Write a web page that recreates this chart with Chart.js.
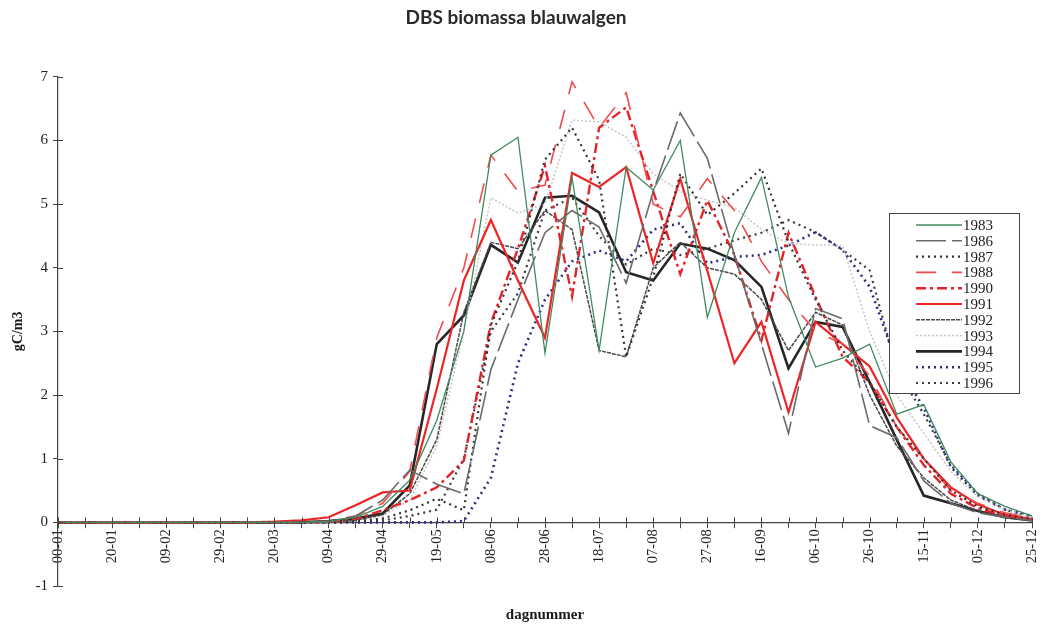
<!DOCTYPE html>
<html>
<head>
<meta charset="utf-8">
<script src="https://cdn.jsdelivr.net/npm/chart.js@4.4.1/dist/chart.umd.min.js"></script>
<style>
  html, body { margin: 0; padding: 0; background: #fff; }
</style>
</head>
<body>
<canvas id="chart" width="1040" height="627"></canvas>
<script>
// day numbers every 10 days, labelled as dd-mm
const dagLabels = ['00-01', '10-01', '20-01', '30-01', '09-02', '19-02', '29-02', '10-03', '20-03', '30-03',
    '09-04', '19-04', '29-04', '09-05', '19-05', '29-05', '08-06', '18-06', '28-06', '08-07',
    '18-07', '28-07', '07-08', '17-08', '27-08', '06-09', '16-09', '26-09', '06-10', '16-10',
    '26-10', '05-11', '15-11', '25-11', '05-12', '15-12', '25-12'];

const years = ['1983', '1986', '1987', '1988', '1990', '1991', '1992', '1993', '1994', '1995', '1996'];

// biomass gC/m3
const s1983 = [0, 0, 0, 0, 0, 0, 0, 0, 0, 0, 0.02, 0.08, 0.25, 0.66, 1.6, 3.0, 5.77, 6.05, 2.66, 5.42, 2.7, 5.58, 5.22, 6.0, 3.22, 4.55, 5.42, 3.54, 2.44, 2.58, 2.8, 1.7, 1.85, 0.95, 0.45, 0.25, 0.1];
const s1986 = [0, 0, 0, 0, 0, 0, 0, 0, 0, 0, 0, 0.1, 0.35, 0.82, 0.6, 0.45, 2.4, 3.5, 4.55, 4.9, 4.64, 3.76, 5.2, 6.43, 5.72, 4.2, 2.8, 1.4, 3.36, 3.2, 1.52, 1.33, 0.65, 0.3, 0.15, 0.08, 0.03];
const s1987 = [0, 0, 0, 0, 0, 0, 0, 0, 0, 0, 0, 0.02, 0.06, 0.19, 0.37, 0.19, 3.1, 4.1, 5.7, 6.2, 5.38, 2.6, 3.85, 5.48, 4.83, 5.17, 5.56, 4.4, 3.5, 2.7, 2.2, 1.5, 1.0, 0.5, 0.25, 0.12, 0.05];
const s1988 = [0, 0, 0, 0, 0, 0, 0, 0, 0, 0, 0.02, 0.1, 0.3, 0.8, 2.9, 4.0, 5.77, 5.2, 5.3, 6.92, 6.2, 6.75, 5.0, 4.8, 5.4, 4.9, 4.1, 3.5, 3.0, 2.8, 2.3, 1.5, 1.0, 0.5, 0.3, 0.15, 0.06];
const s1990 = [0, 0, 0, 0, 0, 0, 0, 0, 0, 0, 0, 0.05, 0.19, 0.35, 0.55, 0.97, 3.13, 4.3, 5.6, 3.55, 6.2, 6.52, 5.2, 3.9, 5.06, 4.2, 2.86, 4.55, 3.54, 2.6, 2.2, 1.5, 0.9, 0.45, 0.22, 0.1, 0.04];
const s1991 = [0, 0, 0, 0, 0, 0, 0, 0, 0.01, 0.03, 0.08, 0.27, 0.47, 0.5, 2.1, 3.8, 4.75, 3.8, 2.9, 5.49, 5.27, 5.58, 4.07, 5.4, 3.95, 2.5, 3.15, 1.73, 3.15, 2.8, 2.45, 1.65, 1.0, 0.55, 0.28, 0.12, 0.05];
const s1992 = [0, 0, 0, 0, 0, 0, 0, 0, 0, 0, 0, 0.03, 0.12, 0.45, 1.3, 3.3, 4.4, 4.3, 4.9, 4.6, 2.7, 2.6, 4.0, 4.4, 4.0, 3.9, 3.5, 2.7, 3.3, 3.1, 2.0, 1.2, 0.7, 0.35, 0.18, 0.08, 0.03];
const s1993 = [0, 0, 0, 0, 0, 0, 0, 0, 0, 0, 0, 0.03, 0.1, 0.35, 1.2, 3.0, 5.1, 4.86, 5.0, 6.32, 6.29, 6.05, 5.48, 5.2, 5.06, 4.95, 4.6, 4.38, 4.36, 4.35, 3.0, 2.0, 1.4, 0.8, 0.4, 0.2, 0.08];
const s1994 = [0, 0, 0, 0, 0, 0, 0, 0, 0, 0, 0.02, 0.06, 0.14, 0.58, 2.8, 3.25, 4.36, 4.08, 5.1, 5.13, 4.87, 3.93, 3.8, 4.38, 4.3, 4.12, 3.7, 2.42, 3.15, 3.07, 2.2, 1.3, 0.42, 0.3, 0.18, 0.08, 0.03];
const s1995 = [0, 0, 0, 0, 0, 0, 0, 0, 0, 0, 0, 0, 0, 0, 0, 0.02, 0.7, 2.5, 3.5, 4.1, 4.27, 4.1, 4.6, 4.7, 4.07, 4.17, 4.2, 4.35, 4.56, 4.28, 3.7, 2.5, 1.8, 0.87, 0.42, 0.2, 0.1];
const s1996 = [0, 0, 0, 0, 0, 0, 0, 0, 0, 0, 0, 0.01, 0.03, 0.1, 0.2, 1.0, 3.0, 3.6, 4.9, 5.1, 4.5, 4.05, 4.3, 4.2, 4.3, 4.43, 4.55, 4.75, 4.56, 4.28, 3.96, 2.4, 1.7, 0.9, 0.45, 0.2, 0.08];

const yTicks = [-1, 0, 1, 2, 3, 4, 5, 6, 7];

const serif = "'Liberation Serif', 'DejaVu Serif', serif";

function line(label, data, color, width, dash) {
    return {
        label: label,
        data: data,
        borderColor: color,
        backgroundColor: color,
        borderWidth: width,
        borderDash: dash,
        pointRadius: 0,
        tension: 0,
        fill: false
    };
}

const datasets = [
    line(years[0], s1983, '#3f8a5f', 1.3, []),
    line(years[1], s1986, '#6a6a6a', 1.6, [30, 6]),
    line(years[2], s1987, '#333333', 2.2, [2, 4]),
    line(years[3], s1988, '#f24a4a', 1.6, [20, 16]),
    line(years[4], s1990, '#e3222a', 2.4, [10, 4, 3, 4]),
    line(years[5], s1991, '#ec2626', 2.2, []),
    line(years[6], s1992, '#4a4a4a', 1.5, [4, 1]),
    line(years[7], s1993, '#c9c4c4', 1.5, [2, 2]),
    line(years[8], s1994, '#262626', 2.6, []),
    line(years[9], s1995, '#2c2c86', 2.6, [2, 4]),
    line(years[10], s1996, '#3c3c3c', 2.2, [2, 4])
];

// tick marks that cross the axis line
const crossTicks = {
    id: 'crossTicks',
    afterDraw(chart) {
        const ctx = chart.ctx;
        const xs = chart.scales.x, ys = chart.scales.y;
        const x0 = ys.right, y0 = ys.getPixelForValue(0);
        ctx.save();
        ctx.strokeStyle = '#444';
        ctx.lineWidth = 1;
        ctx.beginPath();
        ys.ticks.forEach((t, i) => {
            const p = Math.round(ys.getPixelForTick(i)) + 0.5;
            ctx.moveTo(x0, p);
            ctx.lineTo(x0 + 5, p);
        });
        xs.ticks.forEach((t, i) => {
            const p = Math.round(xs.getPixelForTick(i)) + 0.5;
            ctx.moveTo(p, y0);
            ctx.lineTo(p, y0 - 5);
        });
        ctx.stroke();
        ctx.restore();
    }
};

// framed legend inside the plot, on the right
const legendBox = {
    id: 'legendBox',
    afterDraw(chart) {
        const ctx = chart.ctx;
        const left = 889, top = 213, w = 130, h = 180;
        ctx.save();
        ctx.fillStyle = '#fff';
        ctx.fillRect(left, top, w, h);
        ctx.strokeStyle = '#444';
        ctx.lineWidth = 1;
        ctx.strokeRect(left + 0.5, top + 0.5, w, h);
        ctx.font = '15px ' + serif;
        ctx.textBaseline = 'middle';
        ctx.fillStyle = '#222';
        chart.data.datasets.forEach((ds, i) => {
            const y = top + 12 + i * 15.8;
            ctx.beginPath();
            ctx.strokeStyle = ds.borderColor;
            ctx.lineWidth = ds.borderWidth;
            ctx.setLineDash(ds.borderDash);
            ctx.moveTo(916, y);
            ctx.lineTo(962, y);
            ctx.stroke();
            ctx.setLineDash([]);
            ctx.fillText(ds.label, 963, y + 1);
        });
        ctx.restore();
    }
};

new Chart(document.getElementById('chart'), {
    type: 'line',
    data: { labels: dagLabels, datasets: datasets },
    options: {
        responsive: false,
        animation: false,
        layout: { padding: { left: 0, right: 8, top: 0, bottom: 0 } },
        plugins: {
            legend: { display: false },
            tooltip: { enabled: false },
            title: {
                display: true,
                text: 'DBS biomassa blauwalgen',
                color: '#2a2a2a',
                font: { family: 'Lato', size: 19, weight: 'bold' },
                padding: { top: 6, bottom: 48 }
            },
            subtitle: {
                display: true,
                position: 'bottom',
                fullSize: false,
                text: 'dagnummer',
                color: '#1a1a1a',
                font: { family: serif, size: 15, weight: 'bold' },
                padding: { top: 20, bottom: 3 }
            }
        },
        scales: {
            x: {
                type: 'category',
                position: { y: 0 },
                afterFit: function(scale) { scale.paddingLeft = 0; scale.paddingRight = 0; },
                grid: { display: true, drawOnChartArea: false, drawTicks: true, tickLength: 5, color: '#444' },
                border: { display: true, color: '#444', width: 1.2 },
                ticks: {
                    autoSkip: false,
                    minRotation: 90,
                    maxRotation: 90,
                    padding: 2,
                    color: '#222',
                    font: { family: serif, size: 14.5 },
                    callback: function(val, i) {
                        return i % 2 === 0 ? this.getLabelForValue(val) : '';
                    }
                }
            },
            y: {
                min: yTicks[0],
                max: yTicks[yTicks.length - 1],
                afterFit: function(scale) { scale.width = 58; },
                grid: { display: true, drawOnChartArea: false, drawTicks: true, tickLength: 5, color: '#444' },
                border: { display: true, color: '#444', width: 1.2 },
                ticks: {
                    stepSize: 1,
                    padding: 5,
                    color: '#222',
                    font: { family: serif, size: 15 }
                },
                title: {
                    display: true,
                    text: 'gC/m3',
                    color: '#1a1a1a',
                    font: { family: serif, size: 14, weight: 'bold' },
                    padding: { top: 10, bottom: 0 }
                }
            }
        }
    },
    plugins: [crossTicks, legendBox]
});
</script>
</body>
</html>
